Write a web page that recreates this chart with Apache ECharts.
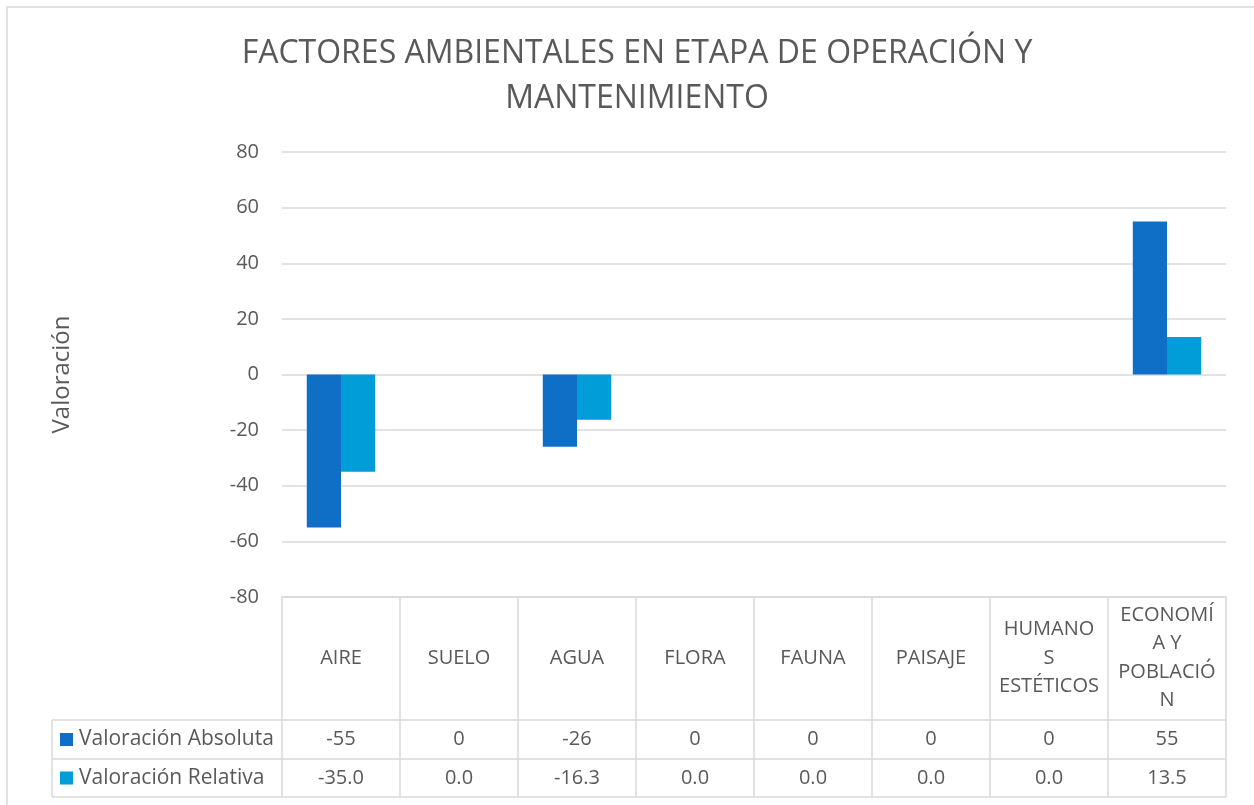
<!DOCTYPE html>
<html>
<head>
<meta charset="utf-8">
<script src="https://cdn.jsdelivr.net/npm/echarts@6/dist/echarts.min.js"></script>
<style>
  html, body { margin: 0; padding: 0; background: #fff; }
  #main { width: 1254px; height: 805px; }
</style>
</head>
<body>
<div id="main"></div>
<script>
// datos del gráfico
const categories = ['AIRE', 'SUELO', 'AGUA', 'FLORA', 'FAUNA', 'PAISAJE', 'HUMANO\nS\nESTÉTICOS', 'ECONOMÍ\nA Y\nPOBLACIÓ\nN'];
const seriesNames = ['Valoración Absoluta', 'Valoración Relativa'];
const absoluta = [-55, 0, -26, 0, 0, 0, 0, 55];
const relativa = [-35.0, 0.0, -16.3, 0.0, 0.0, 0.0, 0.0, 13.5];
const colors = ['#0f6fc6', '#009dd9'];

const FONT = '"Open Sans", "Noto Sans", sans-serif';
const TXT = '#595959';
const LINE = '#d9d9d9';

let chart = echarts.init(document.getElementById('main'), null, { renderer: 'canvas' });

let option = {
  animation: false,
  textStyle: { fontFamily: FONT },
  title: {
    text: 'FACTORES AMBIENTALES EN ETAPA DE OPERACIÓN Y\nMANTENIMIENTO',
    left: 632,
    textAlign: 'center',
    top: 26,
    textStyle: {
      fontFamily: FONT,
      fontSize: 32,
      fontWeight: 'normal',
      color: TXT,
      lineHeight: 45,
    },
  },
  grid: {
    left: 282,
    right: 28,
    top: 152,
    bottom: 208,
  },
  xAxis: {
    type: 'category',
    data: categories,
    axisLine: { onZero: false, lineStyle: { color: LINE, width: 1.5 } },
    axisTick: { show: true, length: 200, lineStyle: { color: LINE, width: 1.5 } },
    axisLabel: {
      interval: 0,
      margin: 61,
      verticalAlign: 'middle',
      fontSize: 20,
      lineHeight: 28.5,
      color: TXT,
      fontFamily: FONT,
    },
  },
  yAxis: {
    type: 'value',
    min: -80,
    max: 80,
    interval: 20,
    name: 'Valoración',
    nameLocation: 'middle',
    nameGap: 208,
    nameRotate: 90,
    nameTextStyle: { fontSize: 24, color: TXT, fontFamily: FONT },
    axisLine: { show: false },
    axisTick: { show: false },
    axisLabel: { fontSize: 20, color: TXT, margin: 23, fontFamily: FONT },
    splitLine: { lineStyle: { color: LINE, width: 1.5 } },
  },
  series: [
    {
      name: seriesNames[0],
      type: 'bar',
      data: absoluta,
      barGap: '0%',
      barCategoryGap: '42%',
      itemStyle: { color: colors[0] },
    },
    {
      name: seriesNames[1],
      type: 'bar',
      data: relativa,
      itemStyle: { color: colors[1] },
    },
  ],
};
chart.setOption(option);

// tabla de datos bajo el eje
function drawTable() {
  let left = 52;
  let right = 1254 - 28;
  let rows = [720, 759, 797];
  let els = [];
  // marco exterior del gráfico
  els.push({
    type: 'rect',
    shape: { x: 7, y: 7, width: 1260, height: 820 },
    style: { fill: null, stroke: LINE, lineWidth: 1.5 },
    silent: true,
  });
  rows.forEach(function (y) {
    els.push({
      type: 'line',
      shape: { x1: left, y1: y, x2: right, y2: y },
      style: { stroke: LINE, lineWidth: 1.5 },
    });
  });
  els.push({
    type: 'line',
    shape: { x1: left, y1: rows[0], x2: left, y2: rows[2] },
    style: { stroke: LINE, lineWidth: 1.5 },
  });
  let rowData = [absoluta.map(v => String(v)), relativa.map(v => v.toFixed(1))];
  rowData.forEach(function (vals, r) {
    let yMid = (rows[r] + rows[r + 1]) / 2;
    els.push({
      type: 'rect',
      shape: { x: 60, y: yMid - 6.5, width: 13, height: 13 },
      style: { fill: colors[r] },
    });
    els.push({
      type: 'text',
      x: 79,
      y: yMid,
      style: {
        text: seriesNames[r],
        fontSize: 21,
        fontFamily: FONT,
        fill: TXT,
        verticalAlign: 'middle',
        align: 'left',
      },
    });
    vals.forEach(function (t, i) {
      let cx = chart.convertToPixel({ xAxisIndex: 0 }, categories[i]);
      els.push({
        type: 'text',
        x: cx,
        y: yMid,
        style: {
          text: t,
          fontSize: 20,
          fontFamily: FONT,
          fill: TXT,
          align: 'center',
          verticalAlign: 'middle',
        },
      });
    });
  });
  chart.setOption({ graphic: els });
}
drawTable();
</script>
</body>
</html>
